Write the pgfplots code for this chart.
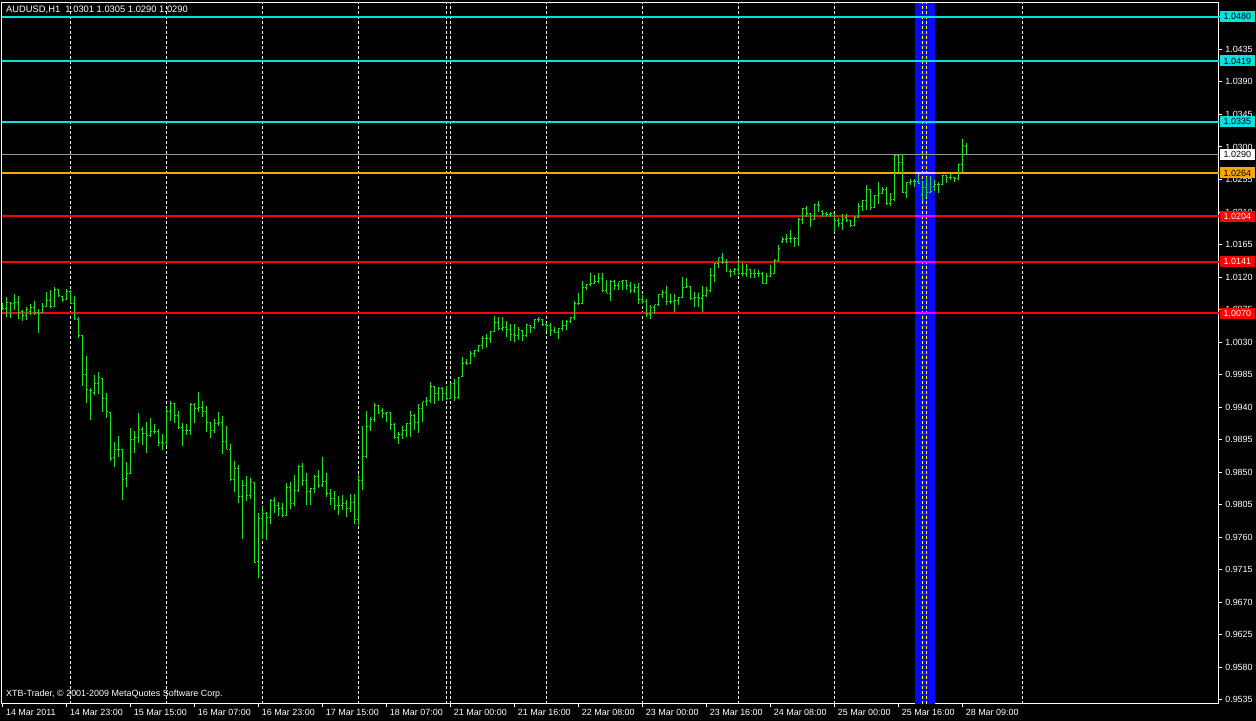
\documentclass[border=0pt]{standalone}
\usepackage{pgfplots}
\usepackage{pgfplotstable}
\pgfplotsset{compat=1.18}
\usepackage{fontspec}
\setmainfont{Liberation Sans}
\definecolor{barg}{RGB}{30,225,30}
\definecolor{lcyan}{RGB}{0,225,225}
\definecolor{lred}{RGB}{255,0,0}
\definecolor{lorange}{RGB}{255,165,0}
\definecolor{lgray}{RGB}{150,150,150}
\definecolor{bandc}{RGB}{10,10,250}
\definecolor{sepy}{RGB}{255,255,0}
\definecolor{lmag}{RGB}{255,0,255}
\definecolor{lpink}{RGB}{255,185,255}

\pgfplotstableread{
i o h l c
0 1.00782 1.00846 1.00745 1.00759
1 1.00768 1.00920 1.00652 1.00851
2 1.00842 1.00855 1.00639 1.00837
3 1.00828 1.00966 1.00745 1.00842
4 1.00851 1.00938 1.00620 1.00712
5 1.00722 1.00745 1.00593 1.00671
6 1.00671 1.00791 1.00606 1.00745
7 1.00726 1.00828 1.00676 1.00782
8 1.00777 1.00869 1.00671 1.00712
9 1.00712 1.00754 1.00431 1.00699
10 1.00712 1.00837 1.00699 1.00791
11 1.00791 1.00994 1.00782 1.00869
12 1.00869 1.01021 1.00777 1.00791
13 1.00791 1.01063 1.00791 1.01021
14 1.01021 1.01040 1.00929 1.00938
15 1.00929 1.00938 1.00851 1.00888
16 1.00888 1.01031 1.00883 1.00998
17 1.00994 1.01021 1.00828 1.00837
18 1.00828 1.00938 1.00606 1.00629
19 1.00616 1.00652 1.00353 1.00394
20 1.00394 1.00399 0.99698 0.99855
21 0.99855 1.00108 0.99454 0.99638
22 0.99629 0.99661 0.99228 0.99624
23 0.99601 0.99846 0.99569 0.99721
24 0.99721 0.99887 0.99583 0.99813
25 0.99799 0.99809 0.99338 0.99523
26 0.99523 0.99601 0.99246 0.99334
27 0.99324 0.99338 0.98661 0.98693
28 0.98702 0.98923 0.98578 0.98817
29 0.98808 0.99002 0.98716 0.98808
30 0.98808 0.98822 0.98121 0.98402
31 0.98416 0.98642 0.98301 0.98476
32 0.98476 0.99117 0.98476 0.98956
33 0.98956 0.99076 0.98771 0.98979
34 0.98979 0.99315 0.98909 0.99094
35 0.99085 0.99131 0.98877 0.99029
36 0.99038 0.99195 0.98771 0.99011
37 0.99011 0.99251 0.98992 0.99066
38 0.99066 0.99168 0.99034 0.99062
39 0.99062 0.99099 0.98868 0.98909
40 0.98909 0.99034 0.98808 0.98900
41 0.98909 0.99394 0.98868 0.99343
42 0.99343 0.99486 0.99214 0.99454
43 0.99454 0.99454 0.99186 0.99283
44 0.99283 0.99352 0.99103 0.99122
45 0.99122 0.99177 0.98868 0.99071
46 0.99071 0.99172 0.99016 0.99071
47 0.99071 0.99454 0.99016 0.99435
48 0.99435 0.99458 0.99186 0.99384
49 0.99384 0.99610 0.99338 0.99398
50 0.99398 0.99490 0.99269 0.99338
51 0.99338 0.99417 0.99062 0.99182
52 0.99182 0.99195 0.98979 0.99071
53 0.99071 0.99237 0.99038 0.99177
54 0.99177 0.99334 0.99140 0.99191
55 0.99191 0.99283 0.98757 0.98923
56 0.98923 0.99140 0.98817 0.98817
57 0.98817 0.98891 0.98384 0.98393
58 0.98393 0.98656 0.98232 0.98550
59 0.98550 0.98601 0.98080 0.98163
60 0.98163 0.98393 0.97582 0.98319
61 0.98315 0.98449 0.98103 0.98177
62 0.98177 0.98421 0.98135 0.98366
63 0.98356 0.98366 0.97241 0.97250
64 0.97268 0.97937 0.97042 0.97858
65 0.97858 0.98024 0.97577 0.97932
66 0.97928 0.97946 0.97563 0.97877
67 0.97877 0.98130 0.97785 0.98107
68 0.98103 0.98154 0.97941 0.98038
69 0.98038 0.98094 0.97895 0.98001
70 0.98001 0.98071 0.97886 0.97895
71 0.97905 0.98356 0.97895 0.98283
72 0.98283 0.98370 0.97997 0.98061
73 0.98061 0.98463 0.98038 0.98246
74 0.98246 0.98601 0.98232 0.98578
75 0.98578 0.98633 0.98315 0.98380
76 0.98380 0.98486 0.98048 0.98227
77 0.98227 0.98287 0.98048 0.98278
78 0.98278 0.98463 0.98218 0.98440
79 0.98440 0.98532 0.98287 0.98315
80 0.98315 0.98712 0.98297 0.98366
81 0.98366 0.98490 0.98163 0.98200
82 0.98200 0.98269 0.98048 0.98140
83 0.98140 0.98241 0.97978 0.98034
84 0.98034 0.98177 0.97914 0.98034
85 0.98034 0.98190 0.97983 0.98061
86 0.98061 0.98112 0.97886 0.97992
87 0.97992 0.98200 0.97946 0.98080
88 0.98080 0.98200 0.97789 0.97840
89 0.97840 0.98463 0.97771 0.98380
90 0.98380 0.99140 0.98255 0.98716
91 0.98716 0.99348 0.98693 0.99136
92 0.99136 0.99260 0.99076 0.99233
93 0.99233 0.99463 0.99200 0.99426
94 0.99426 0.99430 0.99306 0.99329
95 0.99352 0.99385 0.99256 0.99316
96 0.99316 0.99339 0.99191 0.99325
97 0.99325 0.99325 0.99085 0.99154
98 0.99154 0.99186 0.98961 0.98979
99 0.98979 0.99062 0.98887 0.99025
100 0.99025 0.99140 0.98965 0.99076
101 0.99076 0.99186 0.98993 0.99177
102 0.99177 0.99348 0.98993 0.99279
103 0.99279 0.99306 0.99085 0.99186
104 0.99186 0.99445 0.99048 0.99385
105 0.99385 0.99477 0.99200 0.99472
106 0.99472 0.99537 0.99422 0.99495
107 0.99495 0.99749 0.99454 0.99680
108 0.99680 0.99684 0.99445 0.99583
109 0.99583 0.99684 0.99491 0.99661
110 0.99661 0.99684 0.99491 0.99583
111 0.99583 0.99698 0.99500 0.99523
112 0.99523 0.99731 0.99509 0.99721
113 0.99721 0.99795 0.99482 0.99537
114 0.99537 0.99818 0.99514 0.99814
115 0.99823 1.00090 0.99823 1.00003
116 1.00016 1.00063 0.99984 1.00007
117 1.00007 1.00178 0.99998 1.00146
118 1.00146 1.00192 1.00100 1.00178
119 1.00178 1.00261 1.00169 1.00247
120 1.00252 1.00386 1.00210 1.00353
121 1.00353 1.00413 1.00215 1.00353
122 1.00353 1.00455 1.00284 1.00450
123 1.00450 1.00662 1.00436 1.00575
124 1.00575 1.00644 1.00469 1.00492
125 1.00492 1.00649 1.00460 1.00506
126 1.00506 1.00598 1.00376 1.00469
127 1.00469 1.00547 1.00321 1.00409
128 1.00409 1.00552 1.00307 1.00395
129 1.00395 1.00515 1.00335 1.00469
130 1.00455 1.00469 1.00312 1.00386
131 1.00386 1.00552 1.00376 1.00547
132 1.00533 1.00543 1.00432 1.00501
133 1.00501 1.00621 1.00478 1.00607
134 1.00607 1.00644 1.00579 1.00607
135 1.00607 1.00607 1.00529 1.00547
136 1.00547 1.00561 1.00460 1.00529
137 1.00529 1.00561 1.00390 1.00460
138 1.00460 1.00515 1.00423 1.00427
139 1.00427 1.00492 1.00349 1.00487
140 1.00487 1.00607 1.00460 1.00529
141 1.00529 1.00607 1.00469 1.00579
142 1.00579 1.00653 1.00570 1.00639
143 1.00639 1.00874 1.00607 1.00828
144 1.00828 1.00976 1.00815 1.00828
145 1.00828 1.01147 1.00828 1.01059
146 1.01059 1.01100 1.01022 1.01091
147 1.01091 1.01253 1.01077 1.01114
148 1.01114 1.01234 1.01114 1.01137
149 1.01137 1.01262 1.01123 1.01174
150 1.01174 1.01262 1.00999 1.01017
151 1.01017 1.01160 1.00976 1.00976
152 1.00976 1.01160 1.00870 1.01142
153 1.01142 1.01160 1.01022 1.01077
154 1.01077 1.01137 1.01022 1.01133
155 1.01133 1.01160 1.01022 1.01147
156 1.01147 1.01160 1.01022 1.01077
157 1.01077 1.01133 1.00976 1.01008
158 1.01008 1.01105 1.00976 1.01059
159 1.01059 1.01114 1.00828 1.00884
160 1.00884 1.00953 1.00828 1.00861
161 1.00861 1.00898 1.00644 1.00676
162 1.00676 1.00810 1.00616 1.00782
163 1.00782 1.00819 1.00690 1.00815
164 1.00815 1.00967 1.00801 1.00962
165 1.00962 1.01022 1.00916 1.00985
166 1.00985 1.01077 1.00815 1.00861
167 1.00861 1.00967 1.00828 1.00861
168 1.00861 1.00967 1.00722 1.00874
169 1.00874 1.00930 1.00815 1.00921
170 1.00921 1.01197 1.00907 1.01059
171 1.01059 1.01183 1.01045 1.01068
172 1.01068 1.01068 1.00884 1.00902
173 1.00902 1.00994 1.00791 1.00916
174 1.00916 1.00985 1.00782 1.00898
175 1.00898 1.01077 1.00722 1.00939
176 1.00939 1.01068 1.00930 1.01008
177 1.01008 1.01326 1.00999 1.01216
178 1.01216 1.01391 1.01137 1.01391
179 1.01391 1.01469 1.01322 1.01469
180 1.01469 1.01529 1.01381 1.01404
181 1.01404 1.01451 1.01275 1.01400
182 1.01275 1.01308 1.01206 1.01275
183 1.01275 1.01322 1.01229 1.01298
184 1.01298 1.01437 1.01229 1.01252
185 1.01252 1.01400 1.01215 1.01252
186 1.01252 1.01377 1.01206 1.01298
187 1.01298 1.01298 1.01183 1.01252
188 1.01252 1.01308 1.01192 1.01252
189 1.01252 1.01298 1.01206 1.01252
190 1.01252 1.01275 1.01100 1.01114
191 1.01114 1.01252 1.01114 1.01206
192 1.01206 1.01368 1.01206 1.01252
193 1.01252 1.01446 1.01243 1.01427
194 1.01427 1.01644 1.01423 1.01598
195 1.01690 1.01750 1.01677 1.01713
196 1.01713 1.01792 1.01667 1.01731
197 1.01731 1.01852 1.01677 1.01731
198 1.01731 1.01759 1.01612 1.01736
199 1.01736 1.02013 1.01635 1.01999
200 1.01999 1.02161 1.01935 1.02151
201 1.02151 1.02184 1.02027 1.02073
202 1.02073 1.02082 1.01898 1.01999
203 1.01999 1.02211 1.01999 1.02207
204 1.02207 1.02253 1.02105 1.02184
205 1.02105 1.02128 1.02027 1.02082
206 1.02082 1.02105 1.02036 1.02059
207 1.02059 1.02105 1.02027 1.02073
208 1.02073 1.02082 1.01829 1.01981
209 1.01981 1.02013 1.01898 1.01935
210 1.01935 1.02073 1.01852 1.01990
211 1.02027 1.02068 1.01967 1.01981
212 1.01981 1.01990 1.01898 1.01912
213 1.01912 1.02045 1.01912 1.02027
214 1.02027 1.02221 1.02027 1.02175
215 1.02175 1.02267 1.02119 1.02253
216 1.02253 1.02474 1.02128 1.02405
217 1.02405 1.02414 1.02128 1.02161
218 1.02161 1.02336 1.02151 1.02327
219 1.02327 1.02520 1.02211 1.02359
220 1.02359 1.02442 1.02345 1.02414
221 1.02414 1.02451 1.02198 1.02211
222 1.02211 1.02359 1.02184 1.02276
223 1.02276 1.02889 1.02257 1.02880
224 1.02880 1.02903 1.02659 1.02788
225 1.02788 1.02898 1.02359 1.02373
226 1.02373 1.02520 1.02290 1.02511
227 1.02511 1.02553 1.02474 1.02520
228 1.02520 1.02553 1.02451 1.02520
229 1.02520 1.02622 1.02488 1.02497
230 1.02336 1.02520 1.02257 1.02442
231 1.02442 1.02589 1.02313 1.02368
232 1.02368 1.02599 1.02359 1.02382
233 1.02451 1.02543 1.02396 1.02483
234 1.02483 1.02520 1.02359 1.02474
235 1.02474 1.02613 1.02474 1.02599
236 1.02599 1.02613 1.02506 1.02576
237 1.02576 1.02636 1.02543 1.02576
238 1.02576 1.02589 1.02511 1.02557
239 1.02557 1.02760 1.02543 1.02760
240 1.02760 1.03106 1.02659 1.03014
241 1.03010 1.03050 1.02900 1.02900
}\ohlc

% build one path (high-low line, open tick left, close tick right) from the table
\makeatletter
\gdef\barpath{}
\pgfplotstablegetrowsof{\ohlc}
\pgfmathtruncatemacro\nrows{\pgfplotsretval-1}
\pgfplotsforeachungrouped \k in {0,...,\nrows}{%
  \pgfplotstablegetelem{\k}{i}\of\ohlc\let\bX\pgfplotsretval
  \pgfplotstablegetelem{\k}{o}\of\ohlc\let\bO\pgfplotsretval
  \pgfplotstablegetelem{\k}{h}\of\ohlc\let\bH\pgfplotsretval
  \pgfplotstablegetelem{\k}{l}\of\ohlc\let\bL\pgfplotsretval
  \pgfplotstablegetelem{\k}{c}\of\ohlc\let\bC\pgfplotsretval
  \pgfmathsetmacro\bXL{\bX-0.375}%
  \pgfmathsetmacro\bXR{\bX+0.375}%
  \xdef\barpath{\barpath (\bX,\bH) (\bX,\bL) (\bX,nan) (\bXL,\bO) (\bX,\bO) (\bX,nan) (\bX,\bC) (\bXR,\bC) (\bX,nan)}%
}
\makeatother

\begin{document}
\begin{tikzpicture}
\fill[black] (0,0) rectangle (1256bp,721bp);
\begin{axis}[
  at={(2bp,17bp)}, anchor=south west,
  scale only axis, width=1217bp, height=701bp,
  xmin=-0.25, xmax=304, ymin=0.95295, ymax=1.04992,
  axis line style={white, line width=1bp},
  xtick={0,16,...,240},
  xticklabels={14 Mar 2011, 14 Mar 23:00, 15 Mar 15:00, 16 Mar 07:00, 16 Mar 23:00, 17 Mar 15:00, 18 Mar 07:00, 21 Mar 00:00, 21 Mar 16:00, 22 Mar 08:00, 23 Mar 00:00, 23 Mar 16:00, 24 Mar 08:00, 25 Mar 00:00, 25 Mar 16:00, 28 Mar 09:00},
  ytick={0.9535,0.9580,0.9625,0.9670,0.9715,0.9760,0.9805,0.9850,0.9895,0.9940,0.9985,1.0030,1.0075,1.0120,1.0165,1.0210,1.0255,1.0300,1.0345,1.0390,1.0435,1.0480},
  xtick pos=left, ytick pos=right, yticklabel pos=right,
  tick align=outside, major tick length=3bp,
  tick style={white, line width=1bp},
  every tick label/.append style={text=white, font=\fontsize{9}{10}\selectfont},
  xticklabel style={anchor=north west, xshift=-0.5bp, yshift=1bp},
  yticklabel style={anchor=west, /pgf/number format/fixed, /pgf/number format/fixed zerofill, /pgf/number format/precision=4},
  /pgf/number format/assume math mode=true,
]
% period band
\addplot[fill=bandc, draw=none] coordinates {(228,0.95295) (233,0.95295) (233,1.04992) (228,1.04992)} -- cycle;
% day separators
\addplot[white, line width=1bp, dash pattern=on 3bp off 2bp, unbounded coords=jump] coordinates {
 (17,0.95295) (17,1.04992) (17,nan)
 (41,0.95295) (41,1.04992) (41,nan)
 (65,0.95295) (65,1.04992) (65,nan)
 (89,0.95295) (89,1.04992) (89,nan)
 (111,0.95295) (111,1.04992) (111,nan)
 (112,0.95295) (112,1.04992) (112,nan)
 (136,0.95295) (136,1.04992) (136,nan)
 (160,0.95295) (160,1.04992) (160,nan)
 (184,0.95295) (184,1.04992) (184,nan)
 (208,0.95295) (208,1.04992) (208,nan)
 (255,0.95295) (255,1.04992)};
\addplot[sepy, line width=1bp, dash pattern=on 3bp off 2bp, unbounded coords=jump] coordinates {
 (230,0.95295) (230,1.04992) (230,nan)
 (231,0.95295) (231,1.04992)};
% horizontal levels
\addplot[lcyan, line width=2bp] coordinates {(-0.25,1.0480) (304,1.0480)};
\addplot[lcyan, line width=2bp] coordinates {(-0.25,1.0419) (304,1.0419)};
\addplot[lcyan, line width=2bp] coordinates {(-0.25,1.0335) (304,1.0335)};
\addplot[lgray, line width=1bp] coordinates {(-0.25,1.0290) (304,1.0290)};
\addplot[lorange, line width=2bp] coordinates {(-0.25,1.0264) (304,1.0264)};
\addplot[lred, line width=2bp] coordinates {(-0.25,1.0204) (304,1.0204)};
\addplot[lred, line width=2bp] coordinates {(-0.25,1.0141) (304,1.0141)};
\addplot[lred, line width=2bp] coordinates {(-0.25,1.0070) (304,1.0070)};
% levels seen through the band
\addplot[lpink, line width=2bp] coordinates {(228,1.0264) (233,1.0264)};
\addplot[lmag, line width=2bp] coordinates {(228,1.0204) (233,1.0204)};
\addplot[lmag, line width=2bp] coordinates {(228,1.0141) (233,1.0141)};
\addplot[lmag, line width=2bp] coordinates {(228,1.0070) (233,1.0070)};
% OHLC bars
\edef\plotbars{\noexpand\addplot[barg, line width=1bp, unbounded coords=jump] coordinates {\barpath};}
\plotbars
\coordinate (b1) at (axis cs:304,1.0480);
\coordinate (b2) at (axis cs:304,1.0419);
\coordinate (b3) at (axis cs:304,1.0335);
\coordinate (b4) at (axis cs:304,1.0290);
\coordinate (b5) at (axis cs:304,1.0264);
\coordinate (b6) at (axis cs:304,1.0204);
\coordinate (b7) at (axis cs:304,1.0141);
\coordinate (b8) at (axis cs:304,1.0070);
\end{axis}
\tikzset{pbox/.style={anchor=west, minimum width=35bp, minimum height=11bp, inner sep=0pt, font=\fontsize{9}{10}\selectfont}}
\node[pbox, fill=lcyan, text=black] at ([xshift=1bp]b1) {1.0480};
\node[pbox, fill=lcyan, text=black] at ([xshift=1bp]b2) {1.0419};
\node[pbox, fill=lcyan, text=black] at ([xshift=1bp]b3) {1.0335};
\node[pbox, fill=white, text=black] at ([xshift=1bp]b4) {1.0290};
\node[pbox, fill=lorange, text=black] at ([xshift=1bp]b5) {1.0264};
\node[pbox, fill=lred, text=white] at ([xshift=1bp]b6) {1.0204};
\node[pbox, fill=lred, text=white] at ([xshift=1bp]b7) {1.0141};
\node[pbox, fill=lred, text=white] at ([xshift=1bp]b8) {1.0070};
\node[anchor=west, inner sep=0pt, text=white, font=\fontsize{9.4}{10}\selectfont] at (6bp,711bp) {AUDUSD,H1\ \ 1.0301 1.0305 1.0290 1.0290};
\node[anchor=west, inner sep=0pt, text=white, font=\fontsize{9}{10}\selectfont] at (6bp,27bp) {XTB-Trader, © 2001-2009 MetaQuotes Software Corp.};
\end{tikzpicture}
\end{document}
